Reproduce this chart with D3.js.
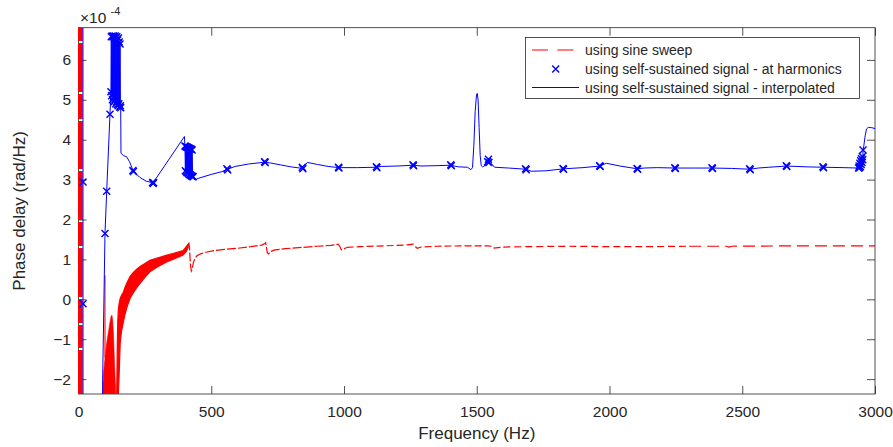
<!DOCTYPE html>
<html>
<head>
<meta charset="utf-8">
<script src="https://cdn.jsdelivr.net/npm/d3@7/dist/d3.min.js"></script>
<style>
  html, body { margin: 0; padding: 0; background: #fff; }
  svg { display: block; font-family: "Liberation Sans", Arial, Helvetica, sans-serif; }
</style>
</head>
<body>
<svg id="chart" width="893" height="447"></svg>
<script>
// ---- axis ticks (phase delay in units of 1e-4 rad/Hz) ----
const xTicks = [0, 500, 1000, 1500, 2000, 2500, 3000];
const yTicks = [-2, -1, 0, 1, 2, 3, 4, 5, 6];
const xDomain = [0, 3000];
const yDomain = [-2.373, 6.807];

// ---- sine sweep (red) ----
// start of the sweep: sweeps the whole range near 0 Hz
const sweepOnset = [[6.8, 7.5], [6.8, -3.0]];
// low-frequency hump below the band: [freq, upper value]
const sweepHump = [[90, -2.4], [95, -1.8], [99.4, -1.5], [99.7, 0.6], [100.2, -1.45], [106, -1.1],
  [112, -0.85], [118, -0.6], [123, -0.42], [126, -0.4], [129, -0.55], [132, -0.9], [135, -1.5],
  [138, -2.0], [141, -2.4]];
// dense oscillating part: [freq, lower, upper]
const sweepBand = [[144, -2.4, -2.4], [146, -2.4, -1.2], [148, -2.4, -0.55], [150, -2.4, -0.27],
  [153, -1.9, -0.1], [157, -1.1, 0.02], [162, -0.8, 0.1], [168, -0.6, 0.16], [175, -0.38, 0.3],
  [183, -0.19, 0.42], [194, 0.02, 0.57], [205, 0.15, 0.66], [218, 0.28, 0.75], [232, 0.4, 0.82],
  [250, 0.55, 0.9], [269, 0.69, 0.98], [300, 0.82, 1.04], [330, 0.93, 1.1], [362, 1.02, 1.16],
  [394, 1.11, 1.22], [406, 1.2, 1.32], [413, 1.3, 1.38]];
// dashed continuation: [freq, value]
const sweepLine = [[412, 1.36], [416, 1.40], [418, 1.3], [420, 1.05], [422, 0.85], [425, 0.71],
  [428, 0.75], [432, 0.9], [438, 1.02], [446, 1.09], [460, 1.14], [480, 1.18], [510, 1.22],
  [550, 1.25], [600, 1.28], [650, 1.32], [690, 1.36], [702, 1.4], [705, 1.42], [708, 1.3],
  [711, 1.17], [716, 1.14], [724, 1.2], [740, 1.24], [780, 1.27], [840, 1.3], [900, 1.33],
  [950, 1.35], [978, 1.38], [984, 1.33], [990, 1.24], [996, 1.25], [1010, 1.3], [1060, 1.32],
  [1150, 1.34], [1230, 1.36], [1262, 1.38], [1270, 1.31], [1276, 1.28], [1290, 1.31],
  [1350, 1.33], [1450, 1.34], [1540, 1.34], [1556, 1.33], [1562, 1.28], [1572, 1.29],
  [1600, 1.31], [1700, 1.32], [1850, 1.33], [2000, 1.32], [2120, 1.32], [2128, 1.3],
  [2140, 1.32], [2300, 1.33], [2440, 1.33], [2450, 1.31], [2462, 1.33], [2700, 1.34], [3000, 1.34]];

// ---- self-sustained signal (blue) ----
const harmonicsCluster1 = [[122, 5.2], [123.5, 6.58], [125, 5.1], [126.5, 6.6], [128, 5.0],
  [129.5, 6.58], [131, 5.05], [132.5, 6.6], [134, 4.95], [135.5, 6.55], [137, 5.0], [138.5, 6.6],
  [140, 4.9], [141.5, 6.55], [143, 4.95], [144.5, 6.58], [146, 4.88], [147.5, 6.5], [149, 4.85],
  [150.5, 6.55], [152, 4.9], [153.5, 6.45], [155, 4.82], [156.5, 6.4], [158, 4.85], [159, 4.8]];
const harmonicsCluster2 = [[401, 3.84], [402.5, 3.22], [404, 3.83], [405.5, 3.2], [407, 3.82],
  [408.5, 3.18], [410, 3.81], [411.5, 3.17], [413, 3.8], [414.5, 3.15], [416, 3.79], [417.5, 3.13],
  [419, 3.78], [420.5, 3.12], [422, 3.77], [423.5, 3.1], [425, 3.76], [426.5, 3.09], [428, 3.74],
  [430, 3.08], [432, 3.07]];
const harmonicsCluster3 = [[2938, 3.29], [2940, 3.34], [2942, 3.3], [2943, 3.41], [2945, 3.33],
  [2946, 3.47], [2948, 3.38], [2949, 3.52], [2951, 3.43], [2952, 3.58], [2954, 3.5], [2955, 3.74]];
const harmonicsSingle = [[17, 2.94], [17, -0.11], [99.8, 1.65], [106.2, 2.71], [118.6, 4.64],
  [205, 3.23], [207, 3.2], [279, 2.93], [281, 2.9], [283, 2.92], [559, 3.27], [562, 3.24],
  [701, 3.45], [703, 3.43], [843, 3.31], [845, 3.27], [979, 3.31], [981, 3.29], [1122, 3.32],
  [1124, 3.3], [1260, 3.37], [1262, 3.35], [1402, 3.37], [1404, 3.35], [1541, 3.45], [1544, 3.51],
  [1546, 3.43], [1684, 3.27], [1686, 3.25], [1825, 3.28], [1827, 3.26], [1963, 3.35], [1965, 3.33],
  [2104, 3.28], [2106, 3.26], [2246, 3.3], [2248, 3.28], [2386, 3.3], [2388, 3.28], [2528, 3.27],
  [2530, 3.25], [2666, 3.35], [2668, 3.33], [2804, 3.32], [2806, 3.3]];

// interpolated curve pieces between the clusters
const interpStart = [[16, 40], [18, -40], [88.5, -40], [91, -2.0], [99.8, 1.65], [106.2, 2.71],
  [118.6, 4.64]];
const interpMid = [[160, 3.66], [170, 3.6], [181.5, 3.57], [192, 3.45], [206, 3.22], [230, 3.06],
  [255, 2.96], [281, 2.92], [399, 4.08]];
const interpLate = [[436, 3.02], [439, 2.99], [450, 3.03], [500, 3.13], [540, 3.2], [561, 3.26],
  [590, 3.33], [640, 3.39], [680, 3.42], [702, 3.44], [720, 3.42], [760, 3.37], [800, 3.32],
  [844, 3.28], [862, 3.43], [900, 3.38], [940, 3.33], [980, 3.3], [1050, 3.3], [1123, 3.31],
  [1140, 3.33], [1200, 3.34], [1261, 3.36], [1290, 3.34], [1350, 3.35], [1403, 3.36],
  [1430, 3.32], [1465, 3.31], [1478, 3.25], [1484, 3.3], [1489, 3.85], [1494, 4.7], [1499, 5.12],
  [1502, 5.16], [1505, 5.0], [1509, 4.3], [1513, 3.6], [1517, 3.35], [1522, 3.32], [1533, 3.36],
  [1543, 3.46], [1552, 3.42], [1567, 3.31], [1620, 3.29], [1685, 3.26], [1705, 3.21],
  [1760, 3.22], [1826, 3.27], [1900, 3.3], [1964, 3.34], [1988, 3.41], [2040, 3.34],
  [2105, 3.27], [2130, 3.29], [2180, 3.3], [2247, 3.29], [2320, 3.29], [2387, 3.29],
  [2460, 3.28], [2529, 3.26], [2560, 3.29], [2600, 3.31], [2667, 3.34], [2740, 3.32],
  [2805, 3.31], [2880, 3.3], [2936, 3.29]];
const interpEnd = [[2958, 3.85], [2963, 4.1], [2968, 4.27], [2975, 4.31], [2988, 4.3], [3000, 4.28]];

const legendLabels = [
  "using sine sweep",
  "using self-sustained signal - at harmonics",
  "using self-sustained signal - interpolated"
];

// ---- layout ----
const svg = d3.select("#chart");
const plot = { left: 78.5, right: 875, top: 27.7, bottom: 394 };
const textColor = "#262626";
const red = "#ff0000", blue = "#0000ff";

const x = d3.scaleLinear().domain(xDomain).range([plot.left, plot.right]);
const y = d3.scaleLinear().domain(yDomain).range([plot.bottom, plot.top]);

svg.append("rect").attr("width", 893).attr("height", 447).attr("fill", "#fff");

// axes are drawn underneath the data
function styleAxis(g) {
  g.select(".domain").remove();
  g.selectAll(".tick line").attr("stroke", textColor).attr("stroke-width", 0.8);
  g.selectAll(".tick text").attr("fill", textColor).attr("font-size", 15.5)
    .attr("font-family", "Liberation Sans, Arial, Helvetica, sans-serif");
}
svg.append("g").attr("transform", `translate(0,${plot.bottom})`)
  .call(d3.axisBottom(x).tickValues(xTicks).tickSize(-8).tickPadding(12).tickFormat(d3.format("d")))
  .call(styleAxis);
svg.append("g").attr("transform", `translate(0,${plot.top})`)
  .call(d3.axisTop(x).tickValues(xTicks).tickSize(-8).tickFormat(""))
  .call(styleAxis);
svg.append("g").attr("transform", `translate(${plot.left},0)`)
  .call(d3.axisLeft(y).tickValues(yTicks).tickSize(-8).tickPadding(7.5).tickFormat(d3.format("d")))
  .call(styleAxis);
svg.append("g").attr("transform", `translate(${plot.right},0)`)
  .call(d3.axisRight(y).tickValues(yTicks).tickSize(-8).tickFormat(""))
  .call(styleAxis);

svg.append("rect")
  .attr("x", plot.left).attr("y", plot.top)
  .attr("width", plot.right - plot.left).attr("height", plot.bottom - plot.top)
  .attr("fill", "none").attr("stroke", textColor).attr("stroke-width", 0.8);

// clip for the data
svg.append("clipPath").attr("id", "plotClip").append("rect")
  .attr("x", plot.left - 0.8).attr("y", plot.top)
  .attr("width", plot.right - plot.left + 0.8).attr("height", plot.bottom - plot.top);
const data = svg.append("g").attr("clip-path", "url(#plotClip)");

const line = d3.line().x(d => x(d[0])).y(d => y(d[1]));

// sine sweep
data.append("path").datum(sweepOnset).attr("d", line)
  .attr("fill", "none").attr("stroke", red).attr("stroke-width", 4.8)
  .attr("stroke-dasharray", "41,2,49,2,25,2,48,2,49,2,24,2,49,2,24,2,23,2,60");

data.append("path").datum(sweepHump)
  .attr("d", d3.area().x(d => x(d[0])).y0(y(yDomain[0]) + 2).y1(d => y(d[1])))
  .attr("fill", red).attr("stroke", red).attr("stroke-width", 0.6);

data.append("path").datum(sweepBand)
  .attr("d", d3.area().x(d => x(d[0])).y0(d => y(d[1])).y1(d => y(d[2])))
  .attr("fill", red).attr("stroke", red).attr("stroke-width", 1.2);

// dashed part, dash rhythm loosens as the sweep gets smoother
const sweepDashes = [
  { from: 412, to: 1000, dash: "9,2" },
  { from: 1000, to: 1600, dash: "7,3" },
  { from: 1600, to: 2300, dash: "7,4" },
  { from: 2300, to: 3000, dash: "12,6" }
];
sweepDashes.forEach(s => {
  const i0 = sweepLine.findIndex(d => d[0] >= s.from);
  const i1 = sweepLine.findIndex(d => d[0] >= s.to);
  const seg = sweepLine.slice(Math.max(0, i0), (i1 < 0 ? sweepLine.length : i1 + 1));
  data.append("path").datum(seg).attr("d", line)
    .attr("fill", "none").attr("stroke", red).attr("stroke-width", 1.2)
    .attr("stroke-dasharray", s.dash);
});

// self-sustained signal markers
const harmonics = [].concat(harmonicsSingle, harmonicsCluster1, harmonicsCluster2, harmonicsCluster3);
const mk = 3.5;
function crossPath(cx, cy) {
  return `M${cx - mk},${cy - mk}L${cx + mk},${cy + mk}M${cx - mk},${cy + mk}L${cx + mk},${cy - mk}`;
}
data.append("g").selectAll("path").data(harmonics).join("path")
  .attr("d", d => crossPath(x(d[0]), y(d[1])))
  .attr("fill", "none").attr("stroke", blue).attr("stroke-width", 1.4);

// interpolated curve
const interp = [].concat(interpStart, harmonicsCluster1, interpMid, harmonicsCluster2,
  interpLate, harmonicsCluster3, interpEnd);
data.append("path").datum(interp).attr("d", line)
  .attr("fill", "none").attr("stroke", blue).attr("stroke-width", 1);

// exponent label
svg.append("text").attr("x", 80).attr("y", 22.7).attr("fill", textColor)
  .attr("font-size", 15.5).text("\u00d710");
svg.append("text").attr("x", 110.5).attr("y", 15).attr("fill", textColor)
  .attr("font-size", 11).text("-4");

// axis labels
svg.append("text").attr("x", (plot.left + plot.right) / 2).attr("y", 438.9)
  .attr("text-anchor", "middle").attr("fill", textColor).attr("font-size", 17)
  .text("Frequency (Hz)");
svg.append("text").attr("transform", `translate(25,${(plot.top + plot.bottom) / 2}) rotate(-90)`)
  .attr("text-anchor", "middle").attr("fill", textColor).attr("font-size", 17)
  .text("Phase delay (rad/Hz)");

// legend
const lg = svg.append("g");
lg.append("rect").attr("x", 525.5).attr("y", 37.5).attr("width", 334).attr("height", 61)
  .attr("fill", "#fff").attr("stroke", textColor).attr("stroke-width", 0.8);
const rowY = [50, 69, 87.5];
lg.append("path").attr("d", `M532,${rowY[0]}H579`)
  .attr("fill", "none").attr("stroke", red).attr("stroke-width", 1.2).attr("stroke-dasharray", "16,9.4");
lg.append("path").attr("d", crossPath(555.7, rowY[1]))
  .attr("fill", "none").attr("stroke", blue).attr("stroke-width", 1.4);
lg.append("path").attr("d", `M532,${rowY[2]}H579`)
  .attr("fill", "none").attr("stroke", blue).attr("stroke-width", 1.2);
lg.selectAll("text.lbl").data(legendLabels).join("text").attr("class", "lbl")
  .attr("x", 585).attr("y", (d, i) => rowY[i] + 5)
  .attr("fill", textColor).attr("font-size", 14).text(d => d);
</script>
</body>
</html>
